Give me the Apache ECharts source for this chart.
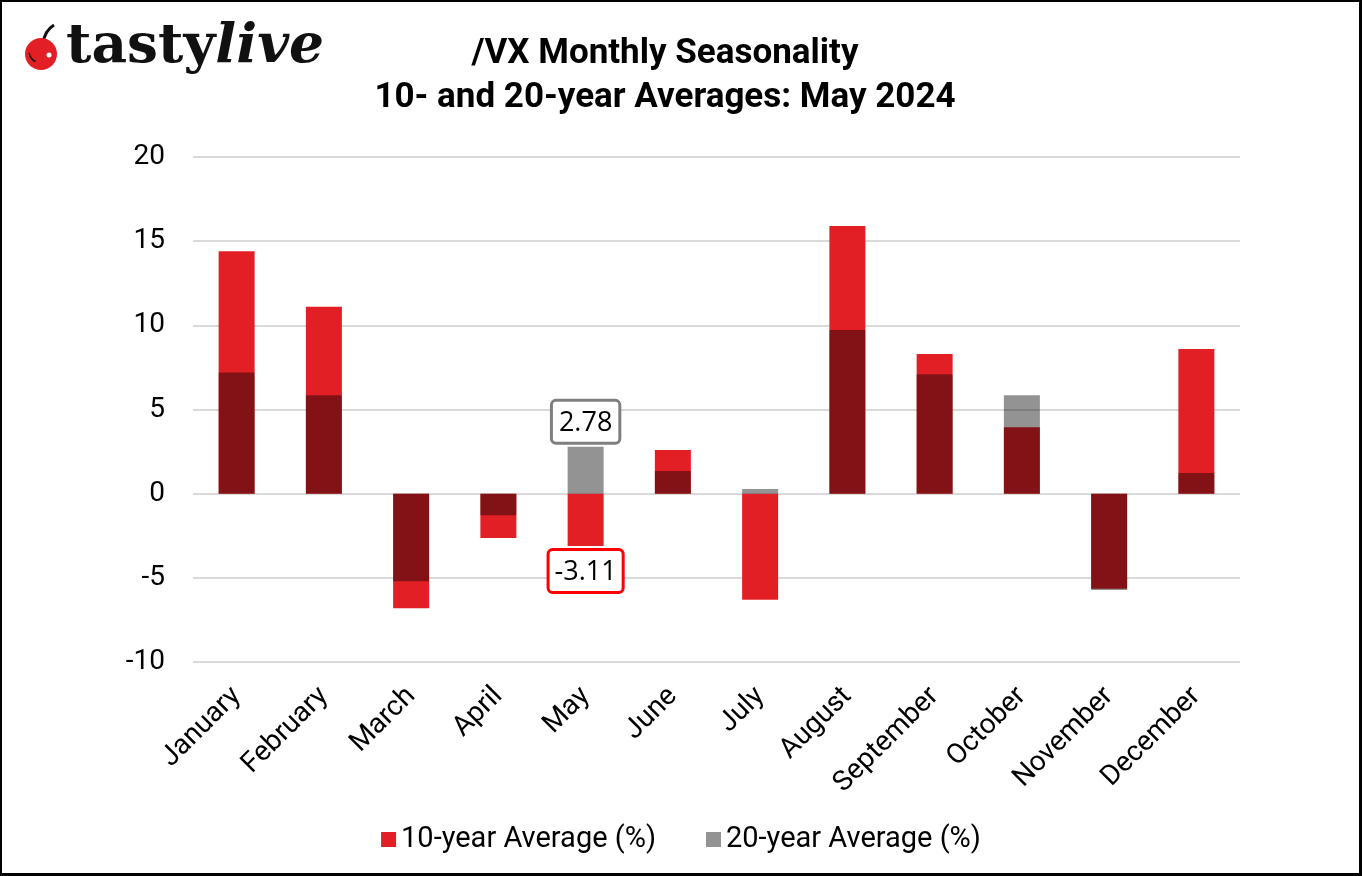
<!DOCTYPE html>
<html>
<head>
<meta charset="utf-8">
<script src="https://cdn.jsdelivr.net/npm/echarts@6/dist/echarts.min.js"></script>
<style>
html,body{margin:0;padding:0;background:#fff;}
#frame{position:absolute;left:0;top:0;width:1362px;height:876px;box-sizing:border-box;border:2px solid #000;border-right-width:3px;border-bottom-width:3px;}
#chart{position:absolute;left:0;top:0;width:1362px;height:876px;}
</style>
</head>
<body>
<div id="chart"></div>
<div id="frame"></div>
<script>
const months = ['January','February','March','April','May','June','July','August','September','October','November','December'];
const avg10 = [14.4, 11.1, -6.8, -2.64, -3.11, 2.6, -6.3, 15.9, 8.3, 3.95, -5.65, 8.6];
const avg20 = [7.2, 5.85, -5.2, -1.28, 2.78, 1.35, 0.28, 9.72, 7.1, 5.85, -5.72, 1.23];
const yTicks = {min: -10, max: 20, interval: 5};
const highlightIndex = 4;

const chart = echarts.init(document.getElementById('chart'));

const red = '#E31F26';
const gray = '#939393';

const data10 = avg10.map((v, i) => i === highlightIndex ? {
  value: v,
  label: {
    show: true, position: 'bottom', distance: 5,
    formatter: '{c}', fontFamily: 'Open Sans', fontSize: 27, color: '#000',
    backgroundColor: '#fff', borderColor: '#FF0000', borderWidth: 3, borderRadius: 3,
    padding: [8, 5, 5, 5]
  }
} : v);
const data20 = avg20.map((v, i) => i === highlightIndex ? {
  value: v,
  label: {
    show: true, position: 'top', distance: 5,
    formatter: '{c}', fontFamily: 'Open Sans', fontSize: 27, color: '#000',
    backgroundColor: '#fff', borderColor: '#7F7F7F', borderWidth: 3, borderRadius: 3,
    padding: [8, 6, 5, 6]
  }
} : v);

chart.setOption({
  backgroundColor: '#fff',
  animation: false,
  title: {
    text: '/VX Monthly Seasonality\n10- and 20-year Averages: May 2024',
    left: 660, top: 27, textAlign: 'center',
    textStyle: {fontFamily: 'Roboto', fontWeight: 'bold', fontSize: 35, lineHeight: 44, color: '#000'}
  },
  legend: {
    data: ['10-year Average (%)', '20-year Average (%)'],
    left: 'center', top: 820,
    icon: 'rect', itemWidth: 15, itemHeight: 15, itemGap: 50,
    textStyle: {fontFamily: 'Roboto', fontSize: 29, color: '#000'}
  },
  grid: {left: 193, right: 122, top: 157, bottom: 214},
  xAxis: {
    type: 'category', data: months,
    axisLine: {show: false}, axisTick: {show: false},
    axisLabel: {rotate: 45, margin: 30, fontFamily: 'Roboto', fontSize: 28, color: '#000', interval: 0}
  },
  yAxis: {
    type: 'value', min: yTicks.min, max: yTicks.max, interval: yTicks.interval,
    axisLine: {show: false}, axisTick: {show: false},
    axisLabel: {margin: 28, fontFamily: 'Roboto', fontSize: 28, color: '#000'},
    splitLine: {lineStyle: {color: '#D9D9D9', width: 2}}
  },
  series: [
    {
      name: '10-year Average (%)', type: 'bar', data: data10,
      barWidth: 36, barGap: '-100%',
      itemStyle: {color: red}
    },
    {
      name: '20-year Average (%)', type: 'bar', data: data20,
      barWidth: 36, barGap: '-100%',
      blendMode: 'multiply',
      itemStyle: {color: gray}
    }
  ],
  graphic: [
    {type: 'bezierCurve', shape: {x1: 43, y1: 44, cpx1: 44, cpy1: 33, cpx2: 49, cpy2: 28, x2: 54, y2: 25},
     style: {stroke: '#111', lineWidth: 3, fill: null}},
    {type: 'circle', shape: {cx: 41, cy: 54, r: 16}, style: {fill: '#E31F26'}},
    {type: 'circle', shape: {cx: 49, cy: 55, r: 2.5}, style: {fill: '#fff'}},
    {type: 'arc', shape: {cx: 41, cy: 51, r: 12, startAngle: Math.PI * 0.65, endAngle: Math.PI * 0.95}, style: {stroke: '#111', lineWidth: 1.5, fill: null}},
    {type: 'text', left: 66, top: 20, style: {
      text: '{a|tasty}{b|live}',
      rich: {
        a: {fontFamily: 'DejaVu Serif', fontWeight: 'bold', fontSize: 55, fill: '#111', color: '#111'},
        b: {fontFamily: 'DejaVu Serif', fontWeight: 'bold', fontStyle: 'italic', fontSize: 55, fill: '#111', color: '#111'}
      }
    }}
  ]
});
</script>
</body>
</html>
